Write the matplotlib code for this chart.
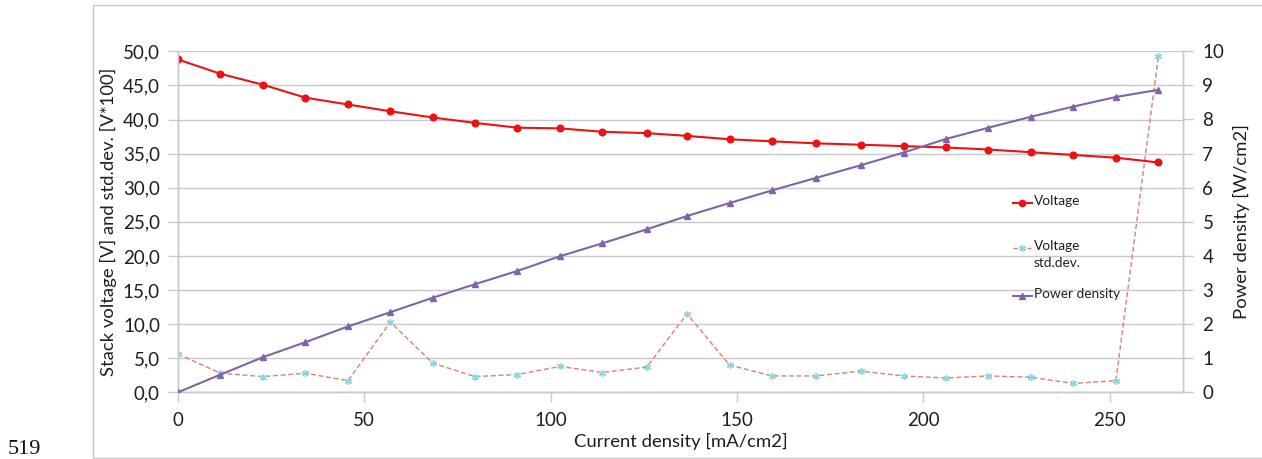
import numpy as np
import matplotlib
matplotlib.use("Agg")
import matplotlib.pyplot as plt
from matplotlib.lines import Line2D
from matplotlib.ticker import FuncFormatter, MultipleLocator

# current density [mA/cm2]
current = [0, 11.4, 22.8, 34.2, 45.6, 57.0, 68.3, 79.7, 91.1, 102.5, 113.9, 125.8,
           136.6, 148.0, 159.4, 171.3, 183.3, 194.7, 206.1, 217.5, 228.9, 240.3,
           251.7, 263.1]
voltage = [48.8, 46.7, 45.1, 43.2, 42.2, 41.2, 40.3, 39.5, 38.8, 38.7, 38.2, 38.0,
           37.6, 37.1, 36.8, 36.5, 36.3, 36.1, 35.9, 35.6, 35.2, 34.8, 34.4, 33.7]
voltage_std = [5.6, 2.8, 2.3, 2.8, 1.7, 10.3, 4.3, 2.3, 2.6, 3.8, 2.9, 3.7,
               11.5, 4.0, 2.4, 2.4, 3.1, 2.4, 2.1, 2.4, 2.2, 1.3, 1.7, 49.3]
power = [0.0, 0.52, 1.03, 1.47, 1.93, 2.35, 2.77, 3.17, 3.56, 3.99, 4.37, 4.78,
         5.17, 5.55, 5.92, 6.29, 6.66, 7.03, 7.43, 7.76, 8.08, 8.38, 8.66, 8.87]

RED = "#ee1111"
STD_LINE = "#e07b7b"
STD_MARK = "#8fd3dc"
PURPLE = "#7f64a8"
GRID = "#c9c9c9"
TXT = "#1e1e1e"

plt.rcParams["font.family"] = ["Lato", "DejaVu Sans"]

W, H = 1262, 459
fig = plt.figure(figsize=(W / 100, H / 100), dpi=100)
ax = fig.add_axes([178 / W, 1 - 392.3 / H, (1183 - 178) / W, (392.3 - 51.3) / H])
ax2 = ax.twinx()

# outer chart frame and stray page number
fig.patches.append(plt.Rectangle((93 / W, 1 - 457.5 / H), 1.2, (457.5 - 5.3) / H,
                                 transform=fig.transFigure, fill=False,
                                 edgecolor="#c8c8c8", linewidth=1.0))
fig.text(8 / W, 1 - 450 / H, "519", family="Liberation Serif", fontsize=16,
         va="center", ha="left", color="#111111")

ax.plot(current, voltage, color=RED, lw=1.5, marker="o", ms=4.8, zorder=4)
ax.plot(current, voltage_std, color=STD_LINE, lw=1.0, ls=(0, (3.5, 2)),
        marker=(6, 2, 0), ms=5, mec=STD_MARK, mew=1.0, zorder=3)
ax2.plot(current, power, color=PURPLE, lw=1.5, marker="^", ms=4.8, zorder=3)

ax.set_xlim(0, 269.7)
ax.set_ylim(0, 50)
ax2.set_ylim(0, 10)
ax.xaxis.set_major_locator(MultipleLocator(50))
ax.yaxis.set_major_locator(MultipleLocator(5))
ax2.yaxis.set_major_locator(MultipleLocator(1))
ax.yaxis.set_major_formatter(FuncFormatter(lambda v, p: f"{v:.1f}".replace(".", ",")))

ax.grid(axis="y", color=GRID, lw=1.0)
ax.set_axisbelow(True)
for a in (ax, ax2):
    for s in a.spines.values():
        s.set_color(GRID)
        s.set_linewidth(1.0)
    a.spines["top"].set_visible(False)
ax.tick_params(axis="both", colors=GRID, labelcolor=TXT, labelsize=13.5, length=7,
               width=1.0)
ax.tick_params(axis="x", pad=7)
ax.tick_params(axis="y", pad=6)
ax2.tick_params(axis="y", colors=GRID, labelcolor=TXT, labelsize=13.5, length=7,
                width=1.0, pad=7)

ax.set_xlabel("Current density [mA/cm2]", fontsize=13.3, color=TXT, labelpad=3)
ax.set_ylabel("Stack voltage [V] and std.dev. [V*100]", fontsize=13.3, color=TXT,
              labelpad=4)
ax2.set_ylabel("Power density [W/cm2]", fontsize=13.3, color=TXT, labelpad=6)


# legend drawn by hand to keep Excel-style spacing
def legend_entry(y, label, line_style, marker_style):
    x0, x1 = 1013 / W, 1032 / W
    yy = 1 - y / H
    fig.add_artist(Line2D([x0, x1], [yy, yy], transform=fig.transFigure,
                          **line_style))
    fig.add_artist(Line2D([(x0 + x1) / 2], [yy], transform=fig.transFigure,
                          ls="none", **marker_style))
    fig.text(1034 / W, 1 - (y - 8) / H, label, fontsize=9.8, color=TXT,
             va="top", ha="left", linespacing=1.5)


legend_entry(203, "Voltage", dict(color=RED, lw=1.5),
             dict(marker="o", ms=4.5, color=RED))
legend_entry(248, "Voltage\nstd.dev.", dict(color=STD_LINE, lw=1.0, ls=(0, (3, 2))),
             dict(marker=(6, 2, 0), ms=5, mec=STD_MARK, mew=1.0))
legend_entry(296, "Power density", dict(color=PURPLE, lw=1.5),
             dict(marker="^", ms=4.5, color=PURPLE))

fig.savefig("out.png", dpi=100)
